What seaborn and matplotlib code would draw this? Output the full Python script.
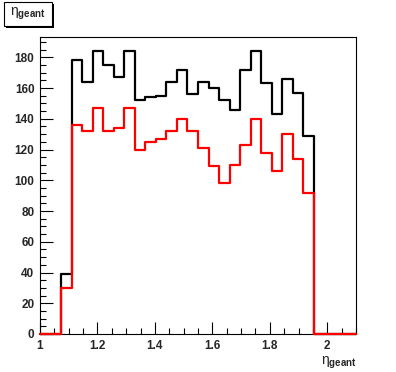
import numpy as np
import pandas as pd
import seaborn as sns
import matplotlib.pyplot as plt
from matplotlib.patches import Rectangle
from matplotlib.ticker import MultipleLocator

# 30 bins from 1 to 2.1 (eta_geant)
x_min, x_max, n_bins = 1.0, 2.1, 30
black_counts = [0, 0, 39, 178, 164, 184, 175, 167, 184, 152, 154, 155, 164, 172, 156,
                164, 160, 152, 146, 172, 184, 163, 143, 166, 157, 129, 0, 0, 0, 0]
red_counts = [0, 0, 30, 136, 132, 147, 132, 134, 147, 120, 125, 127, 132, 140, 132,
              121, 109, 98, 110, 123, 140, 118, 106, 130, 114, 92, 0, 0, 0, 0]

edges = np.linspace(x_min, x_max, n_bins + 1)
centers = 0.5 * (edges[:-1] + edges[1:])
df = pd.DataFrame({'eta': np.concatenate([centers, centers]),
                   'n': black_counts + red_counts,
                   'sel': ['all'] * n_bins + ['sel'] * n_bins})

sns.set_theme(style='white')
plt.rcParams['font.family'] = ['Liberation Sans', 'DejaVu Sans']
plt.rcParams['mathtext.fontset'] = 'custom'
plt.rcParams['mathtext.rm'] = 'Liberation Sans'
plt.rcParams['mathtext.it'] = 'Liberation Sans'
plt.rcParams['mathtext.bf'] = 'Liberation Sans:bold'

fig = plt.figure(figsize=(3.96, 3.72), dpi=100)
ax = fig.add_axes([40 / 396, 38 / 372, 316 / 396, 297 / 372])

for key, color in [('all', 'black'), ('sel', 'red')]:
    sub = df[df['sel'] == key]
    sns.histplot(data=sub, x='eta', weights='n', bins=n_bins,
                 binrange=(x_min, x_max), element='step',
                 fill=False, color=color, linewidth=1.6, ax=ax)
for ln in ax.lines:
    ln.set_clip_on(False)
    ln.set_zorder(3)

ax.set_xlim(x_min, x_max)
ax.set_ylim(0, 1.05 * max(black_counts))
ax.set_xlabel('')
ax.set_ylabel('')

ax.xaxis.set_minor_locator(MultipleLocator(0.05))
ax.yaxis.set_minor_locator(MultipleLocator(5))
ax.tick_params(which='both', direction='in', color='black', width=0.8,
               labelsize=8.5, pad=4)
ax.tick_params(which='major', length=9)
ax.tick_params(which='minor', length=4.5)
ax.tick_params(axis='both', which='both', bottom=True, left=True, top=False, right=False)
xt = [1.0, 1.2, 1.4, 1.6, 1.8, 2.0]
yt = list(range(0, 200, 20))
ax.set_xticks(xt)
ax.set_xticklabels(['%g' % t for t in xt], fontweight='bold')
ax.set_yticks(yt)
ax.set_yticklabels(['%g' % t for t in yt], fontweight='bold')
for s in ax.spines.values():
    s.set_color('black')
    s.set_linewidth(0.8)

ax.text(0.947, -0.098, r'$\eta_{\mathbf{geant}}$', transform=ax.transAxes,
        ha='center', va='center', fontsize=10)

# title box with shadow, like ROOT
fig.patches.append(Rectangle((6 / 396, 1 - 28 / 372), 48 / 396, 24 / 372,
                             transform=fig.transFigure, facecolor='black',
                             edgecolor='black', linewidth=0))
fig.patches.append(Rectangle((4 / 396, 1 - 26 / 372), 48 / 396, 24 / 372,
                             transform=fig.transFigure, facecolor='white',
                             edgecolor='black', linewidth=0.8))
fig.text(28 / 396, 1 - 14 / 372, r'$\eta_{\mathbf{geant}}$', ha='center',
         va='center', fontsize=10)

fig.savefig('out.png', dpi=100)
